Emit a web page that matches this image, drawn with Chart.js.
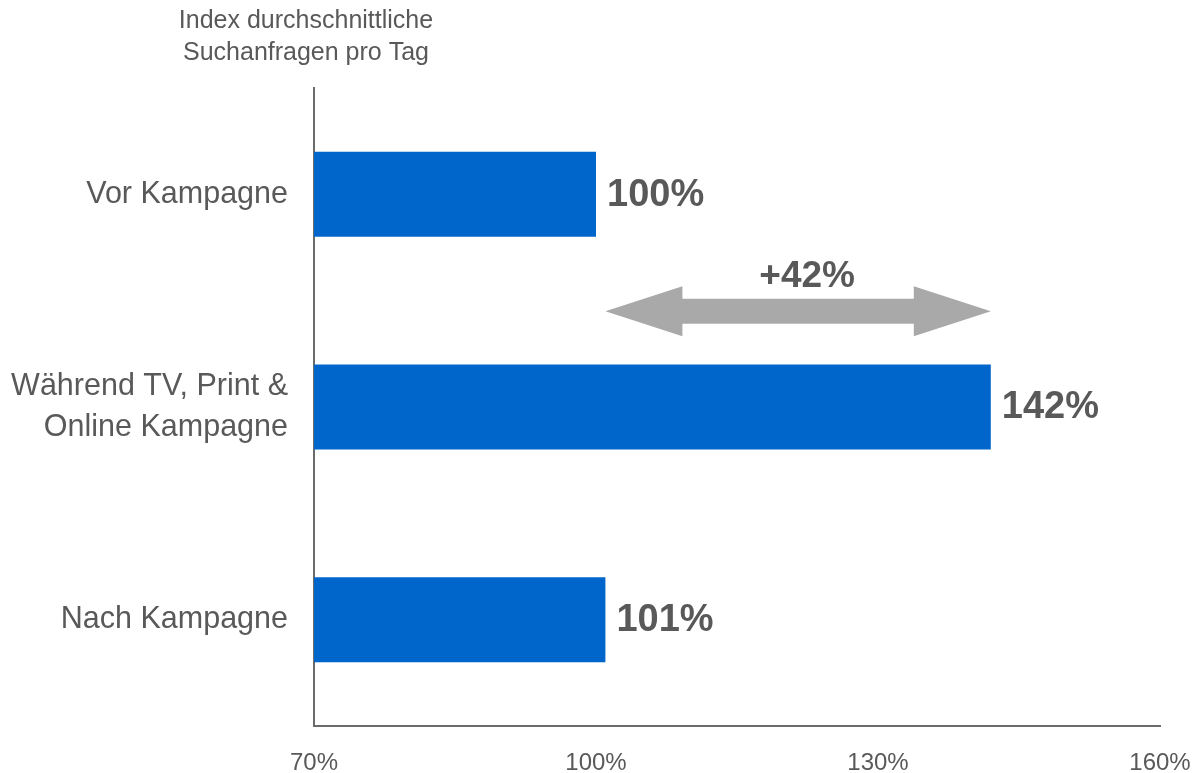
<!DOCTYPE html>
<html lang="de">
<head>
<meta charset="utf-8">
<title>Index durchschnittliche Suchanfragen pro Tag</title>
<script src="https://cdn.jsdelivr.net/npm/chart.js@4"></script>
<style>
  html, body { margin: 0; padding: 0; background: #ffffff; }
  #wrap { position: relative; width: 1194px; height: 773px; }
</style>
</head>
<body>
<div id="wrap"><canvas id="chart"></canvas></div>
<script>
// Kampagnenphasen und Index der Suchanfragen (Vor Kampagne = 100 %)
const categories = [
  'Vor Kampagne',
  ['Während TV, Print &', 'Online Kampagne'],
  'Nach Kampagne'
];
const indexValues = [100, 142, 101];
const axisTicks = [70, 100, 130, 160];
const axisTitle = ['Index durchschnittliche', 'Suchanfragen pro Tag'];
// Doppelpfeil zwischen Vorher- und Während-Wert
const arrowFrom = 101;
const arrowTo = 142;
const arrowCategoryPos = 0.55;
const arrowLabel = '+' + (indexValues[1] - indexValues[0]) + '%';

const FONT = '"Liberation Sans", Arial, Helvetica, sans-serif';
const TEXT = '#595959';
const AXIS = '#6b6b6b';
const BAR = '#0066cc';
const ARROW = '#a9a9a9';

const overlay = {
  id: 'overlay',
  afterDatasetsDraw(chart) {
    const { ctx, chartArea, scales } = chart;
    const xs = scales.x, ys = scales.y;
    ctx.save();

    // Wertbeschriftungen rechts neben den Balken
    ctx.fillStyle = TEXT;
    ctx.font = 'bold 38px ' + FONT;
    ctx.textAlign = 'left';
    ctx.textBaseline = 'middle';
    chart.getDatasetMeta(0).data.forEach((bar, i) => {
      ctx.fillText(indexValues[i] + '%', bar.x + 11, bar.y + 1);
    });

    // Doppelpfeil
    const x0 = xs.getPixelForValue(arrowFrom);
    const x1 = xs.getPixelForValue(arrowTo);
    const yc = ys.getPixelForValue(arrowCategoryPos);
    const shaft = 12.5, head = 25, headLen = 77;
    ctx.fillStyle = ARROW;
    ctx.beginPath();
    ctx.moveTo(x0, yc);
    ctx.lineTo(x0 + headLen, yc - head);
    ctx.lineTo(x0 + headLen, yc - shaft);
    ctx.lineTo(x1 - headLen, yc - shaft);
    ctx.lineTo(x1 - headLen, yc - head);
    ctx.lineTo(x1, yc);
    ctx.lineTo(x1 - headLen, yc + head);
    ctx.lineTo(x1 - headLen, yc + shaft);
    ctx.lineTo(x0 + headLen, yc + shaft);
    ctx.lineTo(x0 + headLen, yc + head);
    ctx.closePath();
    ctx.fill();

    ctx.fillStyle = TEXT;
    ctx.font = 'bold 37px ' + FONT;
    ctx.textAlign = 'center';
    ctx.fillText(arrowLabel, (x0 + x1) / 2 + 9, yc - 35);

    // Achsentitel über der y-Achse
    ctx.font = '25px ' + FONT;
    ctx.fillStyle = TEXT;
    ctx.textAlign = 'center';
    ctx.textBaseline = 'middle';
    ctx.fillText(axisTitle[0], chartArea.left - 8, chartArea.top - 67);
    ctx.fillText(axisTitle[1], chartArea.left - 8, chartArea.top - 35);
    ctx.restore();
  }
};

new Chart(document.getElementById('chart'), {
  type: 'bar',
  data: {
    labels: categories,
    datasets: [{
      data: indexValues,
      backgroundColor: BAR,
      borderWidth: 0,
      barPercentage: 0.4,
      categoryPercentage: 1.0
    }]
  },
  options: {
    indexAxis: 'y',
    responsive: true,
    maintainAspectRatio: false,
    animation: false,
    layout: { padding: { top: 88, right: 34, left: 0, bottom: 0 } },
    plugins: {
      legend: { display: false },
      tooltip: { enabled: false },
      title: { display: false }
    },
    scales: {
      x: {
        min: axisTicks[0],
        max: axisTicks[axisTicks.length - 1],
        afterBuildTicks(scale) {
          scale.ticks = axisTicks.map(v => ({ value: v }));
        },
        afterFit(scale) {
          scale.height = 47;
          scale.paddingLeft = 0;
          scale.paddingRight = 0;
        },
        grid: { display: false, drawTicks: false },
        border: { display: true, color: AXIS, width: 2 },
        ticks: {
          padding: 23,
          color: TEXT,
          font: { family: FONT, size: 24 },
          maxRotation: 0,
          autoSkip: false,
          callback: v => v + '%'
        }
      },
      y: {
        afterFit(scale) { scale.width = 314; },
        grid: { display: false, drawTicks: false },
        border: { display: true, color: AXIS, width: 2 },
        ticks: {
          padding: 26,
          color: TEXT,
          font: { family: FONT, size: 30.5, lineHeight: 1.35 }
        }
      }
    }
  },
  plugins: [overlay]
});
</script>
</body>
</html>
